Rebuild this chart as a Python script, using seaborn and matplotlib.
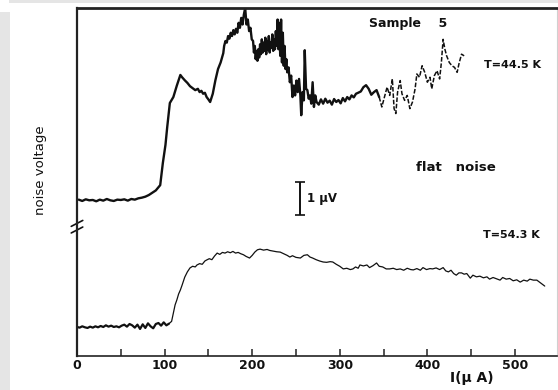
import matplotlib
matplotlib.use("Agg")
import matplotlib.pyplot as plt
from matplotlib.patches import Rectangle
import seaborn as sns
import pandas as pd

# ---------------- data ----------------
# upper trace, T = 44.5 K  (current in uA, noise voltage in uV, arbitrary offset)
top_I = [2, 6, 10, 14, 18, 22, 26, 30, 34, 38, 42, 46, 50, 54, 58, 62, 66, 70, 74, 78, 82, 86, 90,
         95, 98, 101, 103, 106, 110, 114, 118, 120, 123, 126, 129, 132, 135, 138, 140, 142, 144, 146,
         148, 150, 152, 155, 158, 161, 164, 167,
         168, 169.5, 171, 172.5, 174, 175.5, 177, 178.5, 180, 181.5, 183, 184.5, 186, 187.5, 189,
         190.5, 192, 193.5, 195, 196.5, 198, 199.5,
         201, 202, 203, 204, 205, 206, 207, 208, 209, 210, 211, 212, 213, 214, 215, 216, 217, 218,
         219, 220, 221, 222, 223, 224, 225, 226, 227, 228, 229, 230, 231, 232, 233, 234, 235, 236,
         237, 238, 239, 240, 241.5, 243, 244.5, 246, 247.5, 249, 250.5, 252, 253.5, 255, 256,
         257.5, 259, 260, 261.5, 263, 264.5, 266, 267.5, 269, 270.5, 272, 273.5,
         276, 278.5, 281, 283.5, 286, 288.5, 291, 293.5, 296, 298.5, 301, 303.5, 306, 308.5, 311,
         313.5, 316, 318.5, 321, 324, 327, 330, 333, 336, 339, 342, 345,
         348, 351, 354, 357, 360, 362, 364, 366, 369, 371, 374, 377, 380, 383, 386, 388, 391, 394,
         397, 400, 403, 405, 408, 411, 414, 416, 418, 420, 422, 425, 428, 431, 434, 436, 439, 442]
top_V = [4.74, 4.70, 4.75, 4.72, 4.73, 4.69, 4.74, 4.71, 4.76, 4.72, 4.70, 4.74, 4.73, 4.75, 4.71,
         4.76, 4.74, 4.78, 4.80, 4.83, 4.88, 4.95, 5.02,
         5.18, 5.85, 6.40, 6.94, 7.67, 7.85, 8.20, 8.52, 8.45, 8.36, 8.28, 8.18, 8.12, 8.06, 8.10,
         8.00, 8.04, 7.95, 7.98, 7.85, 7.78, 7.70, 7.95, 8.36, 8.70, 8.90, 9.18,
         9.40, 9.55, 9.50, 9.70, 9.62, 9.80, 9.70, 9.88, 9.75, 9.92, 9.80, 10.10, 9.95, 10.25, 10.05,
         10.35, 10.55, 10.05, 10.20, 9.85, 9.95, 9.60,
         9.55, 9.20, 9.40, 9.00, 9.25, 8.95, 9.30, 9.05, 9.45, 9.15, 9.60, 9.20, 9.50, 9.25, 9.65,
         9.15, 9.55, 9.30, 9.70, 9.20, 9.50, 9.35, 9.75, 9.25, 9.60, 9.30, 9.85, 9.40, 10.20, 9.30,
         10.10, 9.10, 10.20, 8.90, 9.80, 8.80, 9.40, 8.70, 9.00, 8.60, 8.75, 8.30, 8.50, 7.85, 8.20,
         7.90, 8.35, 8.00, 8.40, 7.90, 7.30, 8.00, 7.75, 9.27, 8.10, 8.06, 7.80, 7.90, 7.65, 8.30,
         7.55, 7.90, 7.70,
         7.62, 7.78, 7.65, 7.80, 7.68, 7.74, 7.62, 7.79, 7.70, 7.76, 7.66, 7.82, 7.72, 7.85, 7.78,
         7.90, 7.84, 7.95, 7.98, 8.02, 8.15, 8.21, 8.10, 7.92, 8.00, 8.06, 7.85,
         7.55, 7.85, 8.15, 7.90, 8.40, 7.50, 7.35, 8.00, 8.35, 7.95, 7.75, 7.90, 7.50, 7.70, 8.10,
         8.55, 8.45, 8.80, 8.60, 8.30, 8.45, 8.10, 8.50, 8.65, 8.40, 8.90, 9.60, 9.30, 9.10, 8.90,
         8.80, 8.75, 8.60, 8.85, 9.15, 9.10]
top_dashed_from = 346  # pen trace becomes broken beyond this current

# lower trace, T = 54.3 K
bot_I = [0, 3, 6, 9, 12, 15, 18, 21, 24, 27, 30, 33, 36, 39, 42, 45, 48, 51, 54, 57, 60, 63, 66,
         69, 72, 75, 78, 81, 84, 87, 90, 93, 96, 99, 102, 105,
         108, 110, 112, 114, 116, 118, 120, 123, 126, 129, 132, 135, 137, 140, 143, 146, 148, 151,
         154, 157, 160, 163, 166, 169, 172, 175, 178, 181, 184, 187, 190, 193, 197, 200, 203, 206,
         209, 213, 217, 220, 224, 228, 232, 236, 240, 243, 246, 250, 255, 259, 263, 266, 269, 273,
         277, 281, 285, 289, 292, 296, 300, 304, 308, 312, 315, 318, 321, 323, 327, 331, 334, 338,
         342, 345, 349, 353, 357, 361, 365, 369, 373, 377, 381, 384, 388, 392, 395, 399, 403, 406,
         410, 414, 418, 421, 424, 427, 430, 433, 436, 439, 442, 445, 449, 452, 456, 460, 464, 468,
         471, 475, 479, 483, 486, 490, 494, 498, 502, 506, 510, 514, 517, 521, 525, 529, 534]
bot_V = [0.88, 0.86, 0.90, 0.87, 0.85, 0.89, 0.86, 0.90, 0.87, 0.91, 0.88, 0.93, 0.89, 0.92, 0.88,
         0.90, 0.87, 0.92, 0.95, 0.89, 0.97, 0.93, 0.86, 0.95, 0.82, 0.96, 0.85, 0.99, 0.90, 0.84,
         0.97, 1.00, 0.92, 1.02, 0.93, 0.98,
         1.05, 1.30, 1.55, 1.70, 1.88, 2.00, 2.15, 2.39, 2.55, 2.67, 2.72, 2.70, 2.76, 2.80, 2.78,
         2.88, 2.91, 2.95, 2.92, 3.03, 3.12, 3.08, 3.14, 3.12, 3.16, 3.13, 3.17, 3.12, 3.14, 3.10,
         3.07, 3.02, 2.97, 3.05, 3.15, 3.22, 3.24, 3.21, 3.23, 3.20, 3.18, 3.16, 3.15, 3.10, 3.05,
         3.00, 3.04, 2.99, 2.97, 3.05, 3.07, 3.00, 2.97, 2.92, 2.88, 2.85, 2.84, 2.86, 2.85, 2.78,
         2.72, 2.64, 2.66, 2.62, 2.64, 2.70, 2.66, 2.76, 2.73, 2.76, 2.68, 2.74, 2.82, 2.72, 2.70,
         2.64, 2.64, 2.66, 2.62, 2.64, 2.60, 2.66, 2.62, 2.61, 2.65, 2.60, 2.68, 2.62, 2.65, 2.64,
         2.67, 2.62, 2.68, 2.58, 2.55, 2.60, 2.50, 2.45, 2.52, 2.52, 2.48, 2.50, 2.36, 2.45, 2.40,
         2.42, 2.37, 2.40, 2.33, 2.38, 2.34, 2.30, 2.38, 2.33, 2.35, 2.28, 2.31, 2.24, 2.30, 2.27,
         2.33, 2.30, 2.30, 2.22, 2.12]
bot_thick_until = 106  # baseline part drawn with a heavier pen

x_major = [0, 100, 200, 300, 400, 500]
x_minor = [50, 150, 250, 350, 450]
x_max = 548
y_max = 10.55
y_break = 3.94

scale_bar_I = 254.6      # position of the 1 uV bar
scale_bar_center = 4.77
scale_bar_len = 1.0

# ---------------- figure ----------------
sns.set_theme(style="white")
plt.rcParams["font.family"] = ["DejaVu Sans"]

fig = plt.figure(figsize=(5.58, 3.90), dpi=100)
fig.patch.set_facecolor("white")
# scanned-page grey margins
fig.patches.append(Rectangle((0, 0), 10 / 558, 378 / 390, transform=fig.transFigure,
                             facecolor="#e5e5e5", edgecolor="none", zorder=-10))
fig.patches.append(Rectangle((9 / 558, 1 - 2.5 / 390), 1, 2.5 / 390, transform=fig.transFigure,
                             facecolor="#e5e5e5", edgecolor="none", zorder=-10))

ax = fig.add_axes([77 / 558, 34 / 390, 480 / 558, 348 / 390])
ax.set_facecolor("white")

top = pd.DataFrame({"I": top_I, "V": top_V})
bot = pd.DataFrame({"I": bot_I, "V": bot_V})

ink = "#111111"
sns.lineplot(data=top[top.I <= top_dashed_from], x="I", y="V", ax=ax, color=ink,
             lw=1.7, estimator=None, sort=False)
sns.lineplot(data=top[top.I >= top_dashed_from - 3], x="I", y="V", ax=ax, color=ink,
             lw=1.1, linestyle=(0, (3, 1.2)), estimator=None, sort=False)
sns.lineplot(data=bot[bot.I <= bot_thick_until], x="I", y="V", ax=ax, color=ink,
             lw=1.6, estimator=None, sort=False)
sns.lineplot(data=bot[bot.I >= bot_thick_until - 3], x="I", y="V", ax=ax, color=ink,
             lw=0.9, estimator=None, sort=False)

ax.set_xlim(0, x_max)
ax.set_ylim(0, y_max)

# spines
for s in ["left", "bottom", "top"]:
    ax.spines[s].set_visible(True)
    ax.spines[s].set_color("#222222")
ax.spines["top"].set_linewidth(2.0)
ax.spines["left"].set_linewidth(1.6)
ax.spines["bottom"].set_linewidth(1.2)
ax.spines["right"].set_color("#d0d0d0")
ax.spines["right"].set_linewidth(0.8)

# ticks
ax.set_xticks(x_major)
ax.set_xticks(x_minor, minor=True)
ax.set_xticklabels([str(v) for v in x_major])
ax.tick_params(axis="x", which="both", direction="in", length=5, width=1.1, color="#222222",
               bottom=True, top=False, pad=2.5, labelsize=9, labelcolor=ink)
for lab in ax.get_xticklabels():
    lab.set_fontweight("bold")
ax.set_yticks([])

# axis labels
ax.set_xlabel("I(µ A)", fontsize=10, fontweight="bold", color=ink)
ax.xaxis.set_label_coords((472 - 77) / 480, -0.042)
ax.set_ylabel("noise voltage", fontsize=9.5, color=ink)
ax.yaxis.set_label_coords(-0.063, 0.535)

# axis break marks on the left spine
trans = ax.get_yaxis_transform()
for dy in (-0.12, 0.08):
    ax.plot([-0.012, 0.012], [y_break + dy - 0.09, y_break + dy + 0.09], transform=trans,
            color=ink, lw=1.2, clip_on=False)

# 1 uV scale bar
ax.errorbar([scale_bar_I], [scale_bar_center], yerr=[scale_bar_len / 2], color=ink,
            capsize=3.5, capthick=1.2, elinewidth=1.4)
ax.text(scale_bar_I + 8.5, scale_bar_center, "1 µV", fontsize=8.5, fontweight="bold",
        va="center", ha="left", color=ink)

# annotations
ax.text(378, 10.09, "Sample    5", fontsize=9, fontweight="bold", ha="center", va="center",
        color=ink)
ax.text(497, 8.82, "T=44.5 K", fontsize=8, fontweight="bold", ha="center", va="center",
        color=ink)
ax.text(433, 5.70, "flat   noise", fontsize=9.5, fontweight="bold", ha="center", va="center",
        color=ink)
ax.text(496, 3.67, "T=54.3 K", fontsize=8, fontweight="bold", ha="center", va="center",
        color=ink)

fig.savefig("out.png", dpi=100, facecolor=fig.get_facecolor())
